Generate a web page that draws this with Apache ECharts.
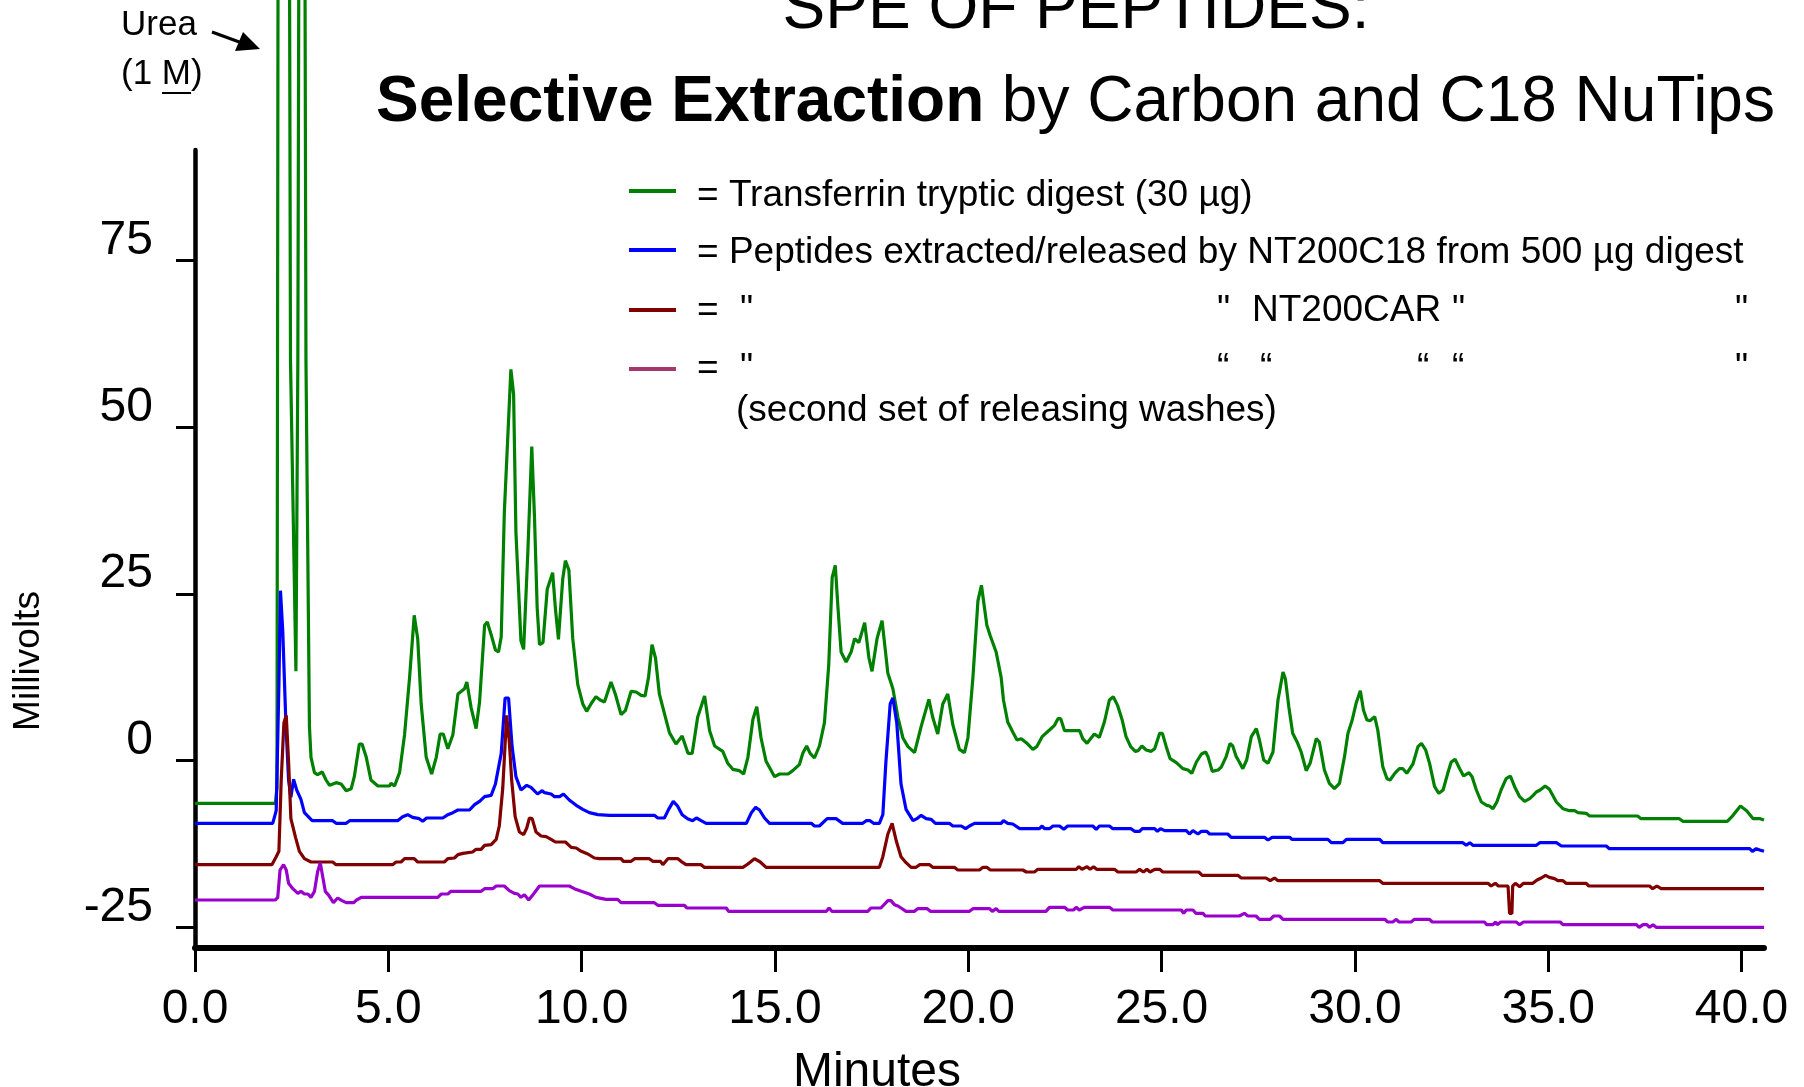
<!DOCTYPE html>
<html>
<head>
<meta charset="utf-8">
<title>SPE of peptides</title>
<script src="https://cdn.jsdelivr.net/npm/echarts@6/dist/echarts.min.js"></script>
<style>
  html, body { margin: 0; padding: 0; background: #fff; }
  #chart { width: 1804px; height: 1087px; }
</style>
</head>
<body>
<div id="chart"></div>
<script>
// tick positions
const xTicks = [0, 5, 10, 15, 20, 25, 30, 35, 40];
const yTicks = [-25, 0, 25, 50, 75];

// series names (legend rows)
const names = [
  'Transferrin tryptic digest (30 µg)',
  'Peptides extracted/released by NT200C18 from 500 µg digest',
  'NT200CAR',
  'NT200CAR (second set of releasing washes)'
];

// [minutes, millivolts]
// transferrin digest, urea peaks run off the top
const transferrin = [
  [0,-6.4],[2.08,-6.4],[2.12,-4],[2.15,130],[2.44,130],[2.47,60],[2.61,13.4],[2.66,60],[2.69,130],[2.84,130],[2.87,60],[2.96,5.1],
  [3.0,0.5],[3.09,-1.8],[3.17,-2.1],[3.29,-1.7],[3.39,-2.9],[3.48,-3.7],[3.65,-3.3],[3.78,-3.5],[3.91,-4.5],[4.04,-4.2],[4.12,-2.4],
  [4.25,2.5],[4.32,2.5],[4.43,0.5],[4.55,-2.9],[4.73,-3.8],[5.03,-3.8],[5.07,-3.4],[5.16,-3.8],[5.29,-1.8],[5.42,3.9],[5.55,12.5],
  [5.67,21.8],[5.76,18.3],[5.85,8.5],[5.98,0.5],[6.12,-2.0],[6.24,0.5],[6.34,4.0],[6.42,4.0],[6.54,1.8],[6.67,3.9],[6.80,10.0],
  [6.97,10.8],[7.03,11.8],[7.14,8.0],[7.27,4.8],[7.36,8.8],[7.49,20.3],[7.56,20.8],[7.66,18.9],[7.77,16.6],[7.85,16.3],[7.92,18.6],
  [8.00,37.2],[8.17,58.7],[8.24,55.0],[8.30,34.3],[8.43,18.0],[8.50,16.7],[8.61,31.5],[8.71,47.1],[8.78,36.6],[8.85,22.9],[8.91,17.4],
  [9.0,17.7],[9.11,25.7],[9.25,28.2],[9.32,22.9],[9.40,18.2],[9.51,27.2],[9.58,30.0],[9.67,28.6],[9.77,18.3],[9.90,11.4],[10.03,8.5],
  [10.13,7.4],[10.24,8.5],[10.37,9.6],[10.48,9.1],[10.59,8.8],[10.76,11.8],[10.87,10.0],[11.02,6.9],[11.13,7.5],[11.28,10.4],
  [11.41,10.3],[11.54,9.8],[11.64,9.7],[11.73,12.5],[11.82,17.4],[11.91,15.4],[12.01,10.0],[12.14,7.1],[12.27,4.2],[12.44,2.5],
  [12.60,3.7],[12.75,1.1],[12.86,1.1],[13.0,6.5],[13.18,9.7],[13.31,4.5],[13.44,2.2],[13.65,1.4],[13.78,-0.4],[13.91,-1.3],
  [14.08,-1.5],[14.19,-2.0],[14.30,0.5],[14.43,6.2],[14.53,8.1],[14.64,3.4],[14.77,-0.1],[14.99,-2.4],[15.12,-2.0],[15.34,-2.0],
  [15.46,-1.5],[15.63,-0.6],[15.72,1.1],[15.82,2.2],[15.91,1.1],[16.02,0.4],[16.15,2.2],[16.28,5.7],[16.39,14.3],[16.48,27.5],
  [16.56,29.3],[16.63,22.9],[16.71,16.3],[16.84,14.8],[16.97,16.3],[17.06,18.3],[17.17,17.7],[17.32,20.7],[17.43,15.4],[17.51,13.4],
  [17.64,18.3],[17.77,21.0],[17.92,13.1],[18.05,10.8],[18.18,6.5],[18.31,3.4],[18.44,2.1],[18.61,1.2],[18.78,5.1],[18.98,9.2],
  [19.08,6.5],[19.21,4.0],[19.34,8.5],[19.47,10.0],[19.60,5.4],[19.77,1.7],[19.90,1.2],[19.99,3.4],[20.12,12.5],[20.25,24.0],
  [20.34,26.3],[20.48,20.3],[20.57,18.7],[20.72,16.3],[20.85,12.5],[20.91,9.1],[21.02,5.8],[21.15,4.3],[21.26,3.1],[21.37,3.3],
  [21.50,2.7],[21.67,1.7],[21.77,2.1],[21.91,3.6],[22.10,4.6],[22.23,5.3],[22.32,6.3],[22.39,6.3],[22.49,4.5],[22.88,4.5],
  [22.96,3.3],[23.07,2.6],[23.26,4.0],[23.39,3.5],[23.52,5.8],[23.65,9.1],[23.75,9.6],[23.86,8.3],[23.98,6.1],[24.08,3.6],
  [24.20,2.1],[24.32,1.4],[24.39,1.5],[24.49,2.2],[24.60,1.6],[24.73,1.4],[24.82,1.8],[24.95,4.1],[25.02,4.1],[25.12,2.1],
  [25.22,0.3],[25.38,-0.3],[25.55,-1.2],[25.68,-1.4],[25.78,-1.9],[25.90,-0.2],[26.03,1.0],[26.14,1.3],[26.20,0.6],[26.31,-1.6],
  [26.46,-1.4],[26.54,-1.0],[26.67,0.6],[26.77,2.6],[26.84,2.2],[26.93,0.6],[27.01,-0.2],[27.10,-1.2],[27.20,0.1],[27.32,3.6],
  [27.45,4.8],[27.53,3.1],[27.64,0.1],[27.75,-0.4],[27.88,1.3],[28.01,9.1],[28.14,13.3],[28.20,12.3],[28.29,8.1],[28.39,4.1],
  [28.52,2.6],[28.61,1.3],[28.74,-1.5],[28.84,-0.4],[29.00,3.3],[29.08,2.8],[29.21,-1.4],[29.34,-3.4],[29.47,-4.2],[29.60,-3.4],
  [29.73,0.6],[29.82,4.1],[29.93,6.1],[30.03,8.6],[30.14,10.5],[30.22,7.6],[30.31,6.1],[30.39,6.0],[30.51,6.6],[30.59,4.6],
  [30.72,-0.9],[30.83,-2.7],[30.91,-2.9],[31.03,-1.9],[31.15,-1.2],[31.24,-1.2],[31.34,-1.9],[31.50,-0.5],[31.63,2.1],[31.72,2.6],
  [31.83,1.6],[31.93,-0.4],[32.06,-3.9],[32.17,-4.9],[32.28,-4.4],[32.40,-1.9],[32.49,-0.2],[32.59,0.2],[32.71,-1.2],[32.81,-2.3],
  [32.95,-1.8],[33.03,-2.4],[33.14,-4.4],[33.27,-6.2],[33.41,-6.7],[33.48,-6.8],[33.57,-7.2],[33.67,-6.2],[33.78,-4.4],[33.91,-2.7],
  [34.02,-2.3],[34.13,-3.9],[34.26,-5.4],[34.39,-6.1],[34.52,-5.7],[34.61,-5.2],[34.69,-4.7],[34.79,-4.4],[34.92,-3.8],[35.03,-4.3],
  [35.21,-6.2],[35.38,-7.2],[35.55,-7.5],[35.68,-7.5],[35.77,-7.8],[35.98,-7.9],[36.07,-8.3],[37.31,-8.3],[37.40,-8.7],[38.39,-8.7],
  [38.48,-9.1],[39.63,-9.1],[39.78,-8.2],[39.97,-6.8],[40.13,-7.5],[40.30,-8.7],[40.48,-8.7],[40.58,-8.9]
];

// NT200C18 release
const c18 = [
  [0,-9.4],[2.01,-9.4],[2.10,-7.5],[2.17,11.4],[2.21,25.5],[2.27,19.4],[2.35,5.7],[2.42,-2.9],[2.48,-5.5],[2.55,-2.8],[2.63,-4.4],
  [2.74,-5.8],[2.83,-7.8],[3.03,-9.0],[3.56,-9.0],[3.65,-9.4],[3.91,-9.4],[4.0,-9.0],[5.24,-9.0],[5.37,-8.4],[5.50,-8.1],[5.63,-8.5],
  [5.80,-8.7],[5.89,-9.1],[5.99,-8.6],[6.41,-8.6],[6.54,-8.1],[6.67,-7.8],[6.80,-7.4],[7.10,-7.4],[7.23,-6.6],[7.36,-6.1],[7.49,-5.4],
  [7.66,-5.2],[7.77,-3.5],[7.92,1.1],[8.02,9.4],[8.11,9.4],[8.20,2.2],[8.30,-2.4],[8.43,-4.4],[8.58,-3.7],[8.69,-4.0],[8.86,-5.0],
  [8.98,-4.5],[9.04,-4.8],[9.21,-5.0],[9.30,-5.4],[9.43,-5.4],[9.53,-5.0],[9.68,-5.9],[9.86,-6.7],[10.03,-7.3],[10.20,-7.8],
  [10.42,-8.1],[10.72,-8.2],[11.88,-8.2],[11.97,-8.6],[12.14,-8.6],[12.25,-7.3],[12.37,-6.1],[12.48,-6.8],[12.60,-8.1],[12.74,-8.7],
  [12.87,-9.0],[12.97,-8.6],[13.09,-9.0],[13.22,-9.4],[14.26,-9.4],[14.39,-7.8],[14.50,-7.0],[14.60,-7.4],[14.73,-8.6],[14.86,-9.4],
  [15.94,-9.4],[16.02,-9.8],[16.15,-9.8],[16.35,-8.7],[16.58,-8.7],[16.75,-9.4],[17.27,-9.4],[17.36,-9.0],[17.46,-9.0],[17.55,-9.4],
  [17.70,-9.4],[17.79,-8.1],[17.87,-0.1],[17.98,8.5],[18.05,9.4],[18.15,5.7],[18.26,-3.5],[18.39,-7.3],[18.57,-9.0],[18.67,-8.7],
  [18.78,-8.2],[18.91,-8.7],[19.04,-8.8],[19.15,-9.4],[19.51,-9.4],[19.60,-9.8],[19.82,-9.8],[19.93,-10.2],[20.03,-9.8],[20.16,-9.4],
  [20.85,-9.4],[20.91,-9.0],[21.02,-9.4],[21.15,-9.5],[21.33,-10.2],[21.84,-10.2],[21.91,-9.8],[21.97,-10.2],[22.10,-10.2],
  [22.19,-9.8],[22.36,-9.8],[22.47,-10.3],[22.57,-9.8],[23.22,-9.8],[23.31,-10.3],[23.39,-9.8],[23.65,-9.8],[23.74,-10.2],
  [24.21,-10.2],[24.30,-10.6],[24.43,-10.6],[24.50,-10.2],[24.82,-10.2],[24.89,-10.6],[24.97,-10.2],[25.08,-10.5],[25.64,-10.5],
  [25.72,-11.0],[25.81,-10.5],[25.94,-11.0],[26.03,-10.6],[26.17,-10.6],[26.24,-11.0],[26.71,-11.0],[26.80,-11.5],[27.66,-11.5],
  [27.75,-11.9],[27.86,-11.5],[28.31,-11.5],[28.37,-11.8],[29.30,-11.8],[29.39,-12.3],[29.69,-12.3],[29.78,-11.8],[30.64,-11.8],
  [30.72,-12.3],[32.79,-12.3],[32.88,-12.7],[32.97,-12.3],[33.05,-12.7],[34.69,-12.7],[34.78,-12.3],[35.21,-12.3],[35.34,-12.8],
  [36.50,-12.8],[36.58,-13.2],[40.21,-13.2],[40.28,-13.6],[40.38,-13.2],[40.47,-13.4],[40.58,-13.6]
];

// NT200CAR release
const car = [
  [0,-15.6],[1.99,-15.6],[2.10,-14.4],[2.17,-13.6],[2.23,-2.9],[2.30,5.7],[2.36,6.8],[2.42,-0.1],[2.48,-8.7],[2.60,-11.5],
  [2.70,-13.6],[2.83,-14.7],[3.0,-15.2],[3.56,-15.2],[3.65,-15.6],[5.11,-15.6],[5.20,-15.2],[5.33,-15.2],[5.42,-14.7],[5.67,-14.7],
  [5.76,-15.2],[6.45,-15.2],[6.54,-14.7],[6.71,-14.6],[6.80,-14.1],[6.93,-13.9],[7.18,-13.7],[7.27,-13.3],[7.40,-13.3],[7.49,-12.7],
  [7.66,-12.6],[7.79,-11.8],[7.87,-9.8],[7.96,-4.1],[8.06,6.8],[8.13,2.8],[8.19,-2.9],[8.28,-8.4],[8.39,-10.7],[8.50,-11.1],
  [8.58,-10.1],[8.65,-8.6],[8.72,-8.7],[8.82,-10.7],[8.95,-11.3],[9.08,-11.4],[9.21,-11.8],[9.32,-12.2],[9.58,-12.2],[9.73,-13.0],
  [9.86,-13.1],[9.99,-13.6],[10.16,-14.0],[10.33,-14.6],[10.46,-14.7],[11.02,-14.7],[11.08,-15.1],[11.28,-15.1],[11.37,-14.7],
  [11.75,-14.7],[11.84,-15.1],[12.04,-15.1],[12.10,-15.6],[12.23,-14.7],[12.49,-14.7],[12.57,-15.1],[12.70,-15.6],[13.09,-15.6],
  [13.17,-16.0],[14.17,-16.0],[14.30,-15.5],[14.47,-14.7],[14.62,-15.2],[14.77,-16.0],[17.70,-16.0],[17.79,-14.4],[17.92,-11.0],
  [18.03,-9.4],[18.14,-12.1],[18.26,-14.4],[18.39,-15.3],[18.52,-16.0],[18.65,-16.0],[18.74,-15.6],[19.0,-15.6],[19.08,-16.0],
  [19.64,-16.0],[19.73,-16.4],[20.29,-16.4],[20.38,-16.0],[20.48,-16.0],[20.57,-16.4],[21.41,-16.4],[21.50,-16.7],[21.71,-16.7],
  [21.80,-16.3],[22.79,-16.3],[22.86,-15.9],[22.94,-16.3],[23.07,-15.9],[23.15,-16.3],[23.24,-15.9],[23.32,-16.3],[23.78,-16.3],
  [23.87,-16.7],[24.34,-16.7],[24.43,-16.3],[24.53,-16.7],[24.62,-16.3],[24.70,-16.7],[24.82,-16.3],[24.95,-16.3],[25.03,-16.7],
  [25.96,-16.7],[26.05,-17.2],[26.97,-17.2],[27.06,-17.6],[27.70,-17.6],[27.81,-18.0],[27.92,-17.6],[28.01,-18.0],[30.64,-18.0],
  [30.72,-18.4],[33.44,-18.4],[33.52,-18.8],[33.63,-18.4],[33.71,-18.8],[33.96,-18.8],[34.0,-22.9],[34.06,-22.9],[34.08,-18.8],
  [34.15,-18.4],[34.26,-18.9],[34.36,-18.4],[34.60,-18.4],[34.71,-17.9],[34.82,-17.6],[34.93,-17.2],[35.03,-17.5],[35.16,-17.7],
  [35.25,-18.0],[35.38,-18.0],[35.46,-18.4],[35.98,-18.4],[36.05,-18.8],[37.62,-18.8],[37.70,-19.2],[37.81,-18.8],[37.92,-19.2],
  [40.58,-19.2]
];

// NT200CAR second set of releasing washes
const car2 = [
  [0,-20.9],[2.08,-20.9],[2.14,-20.5],[2.20,-16.4],[2.29,-15.6],[2.36,-16.4],[2.42,-18.4],[2.53,-19.2],[2.66,-19.9],[2.74,-19.6],
  [2.83,-20.0],[2.92,-20.0],[3.0,-20.5],[3.09,-19.6],[3.17,-16.7],[3.24,-15.3],[3.30,-17.3],[3.37,-19.6],[3.46,-20.2],[3.58,-21.3],
  [3.69,-20.6],[3.80,-21.0],[3.91,-21.3],[4.10,-21.3],[4.18,-20.9],[4.30,-20.5],[6.28,-20.5],[6.37,-20.0],[6.54,-20.0],[6.62,-19.6],
  [7.40,-19.6],[7.49,-19.2],[7.70,-19.2],[7.79,-18.8],[8.0,-18.8],[8.13,-19.5],[8.26,-19.9],[8.35,-20.0],[8.43,-20.5],[8.52,-20.1],
  [8.63,-20.9],[8.73,-20.2],[8.91,-18.8],[9.68,-18.8],[9.81,-19.2],[9.99,-19.6],[10.20,-20.0],[10.37,-20.5],[10.63,-20.8],
  [10.93,-20.8],[11.02,-21.3],[11.88,-21.3],[11.97,-21.7],[12.66,-21.7],[12.72,-22.1],[13.74,-22.1],[13.80,-22.6],[16.33,-22.6],
  [16.40,-22.1],[16.47,-22.6],[17.40,-22.6],[17.48,-22.1],[17.74,-22.1],[17.92,-21.0],[18.0,-21.0],[18.09,-21.6],[18.18,-21.8],
  [18.26,-22.1],[18.39,-22.6],[18.61,-22.6],[18.69,-22.2],[18.94,-22.2],[19.02,-22.6],[20.03,-22.6],[20.12,-22.2],[20.55,-22.2],
  [20.62,-22.6],[20.72,-22.2],[20.79,-22.6],[22.01,-22.6],[22.10,-22.0],[22.49,-22.0],[22.57,-22.4],[22.72,-22.4],[22.79,-22.0],
  [22.87,-22.4],[23.0,-22.0],[23.65,-22.0],[23.74,-22.4],[25.51,-22.4],[25.57,-22.9],[25.64,-22.4],[25.81,-22.4],[25.89,-22.9],
  [26.07,-22.9],[26.13,-23.3],[27.01,-23.3],[27.14,-22.9],[27.23,-23.3],[27.44,-23.3],[27.53,-23.8],[27.81,-23.8],[27.90,-23.3],
  [28.05,-23.3],[28.14,-23.8],[30.77,-23.8],[30.85,-24.2],[30.98,-24.2],[31.07,-23.8],[31.14,-24.2],[31.45,-24.2],[31.54,-23.8],
  [31.93,-23.8],[32.0,-24.2],[33.35,-24.2],[33.41,-24.6],[33.57,-24.6],[33.64,-24.2],[33.68,-24.6],[33.77,-24.2],[34.17,-24.2],
  [34.26,-24.6],[34.36,-24.2],[35.31,-24.2],[35.38,-24.6],[37.28,-24.6],[37.35,-25.0],[37.45,-24.6],[37.55,-24.6],[37.62,-25.0],
  [37.71,-24.6],[37.79,-25.0],[40.58,-25.0]
];

const FONT = '"Liberation Sans", Arial, Helvetica, sans-serif';
const colors = ['#008000', '#0000ff', '#800000', '#9900cc'];
const legendColors = ['#008000', '#0000ff', '#800000', '#a3386d'];

function txt(text, x, y, size, opts) {
  opts = opts || {};
  return {
    type: 'text',
    x: x, y: y,
    rotation: opts.rotation || 0,
    style: {
      text: text,
      fill: '#000',
      font: (opts.bold ? 'bold ' : '') + size + 'px ' + FONT,
      align: opts.align || 'left',
      verticalAlign: 'middle'
    }
  };
}

function seg(x1, y1, x2, y2, color, w) {
  return {
    type: 'line',
    shape: { x1: x1, y1: y1, x2: x2, y2: y2 },
    style: { stroke: color, lineWidth: w }
  };
}

// legend rows drawn by hand, the ditto marks sit in columns
const legendRowsY = [191, 250, 310, 369];
const graphics = [];
legendRowsY.forEach(function (y, i) {
  graphics.push(seg(629, y, 676, y, legendColors[i], 4));
});
graphics.push(
  txt('= ' + names[0], 697, 196, 37),
  txt('= ' + names[1], 697, 253, 37),
  txt('=', 697, 311, 37), txt('"', 740, 311, 37), txt('"', 1217, 311, 37),
  txt('NT200CAR', 1252, 311, 37), txt('"', 1452, 311, 37), txt('"', 1735, 311, 37),
  txt('=', 697, 369, 37), txt('"', 740, 369, 37), txt('\u201c', 1217, 369, 37),
  txt('\u201c', 1260, 369, 37), txt('\u201c', 1417, 369, 37), txt('\u201c', 1452, 369, 37),
  txt('"', 1735, 369, 37),
  txt('(second set of releasing washes)', 736, 411, 37),

  // title
  txt('SPE OF PEPTIDES:', 1076, 10, 64, { align: 'center' }),
  txt('Selective Extraction', 376, 103, 64, { bold: true }),
  txt(' by Carbon and C18 NuTips', 984, 103, 64),

  // urea note
  txt('Urea', 121, 25, 35),
  txt('(1 M)', 121, 74, 35),
  seg(162, 93, 191, 93, '#000', 2),
  seg(212, 32, 242, 43, '#000', 3),
  {
    type: 'polygon',
    shape: { points: [[260, 49], [235, 51], [243, 32]] },
    style: { fill: '#000' }
  },

  // axis names
  txt('Minutes', 877, 1073, 48, { align: 'center' }),
  txt('Millivolts', 29, 661, 37, { align: 'center', rotation: Math.PI / 2 })
);

const chart = echarts.init(document.getElementById('chart'));

const traces = [transferrin, c18, car, car2];

chart.setOption({
  animation: false,
  backgroundColor: '#fff',
  textStyle: { fontFamily: FONT },
  grid: { left: 195, right: 40, top: 150, bottom: 139 },
  xAxis: {
    type: 'value',
    min: 0,
    max: 40.58,
    axisLine: { onZero: false, lineStyle: { color: '#000', width: 6 } },
    axisTick: { customValues: xTicks, length: 24, lineStyle: { color: '#000', width: 3 } },
    axisLabel: {
      customValues: xTicks,
      formatter: function (v) { return v.toFixed(1); },
      color: '#000', fontSize: 48, fontFamily: FONT, margin: 38
    },
    splitLine: { show: false }
  },
  yAxis: {
    type: 'value',
    min: -28.1,
    max: 91.6,
    offset: 3,
    axisLine: { show: true, lineStyle: { color: '#000', width: 4.5 } },
    axisTick: { show: true, customValues: yTicks, length: 19, lineStyle: { color: '#000', width: 3 } },
    axisLabel: {
      customValues: yTicks,
      color: '#000', fontSize: 48, fontFamily: FONT, margin: 39,
      verticalAlign: 'bottom', lineHeight: 40
    },
    splitLine: { show: false }
  },
  series: traces.map(function (d, i) {
    return {
      name: names[i],
      type: 'line',
      data: d,
      symbol: 'none',
      clip: false,
      lineStyle: { color: colors[i], width: 3.2 },
      itemStyle: { color: colors[i] }
    };
  }),
  graphic: { elements: graphics }
});
</script>
</body>
</html>
